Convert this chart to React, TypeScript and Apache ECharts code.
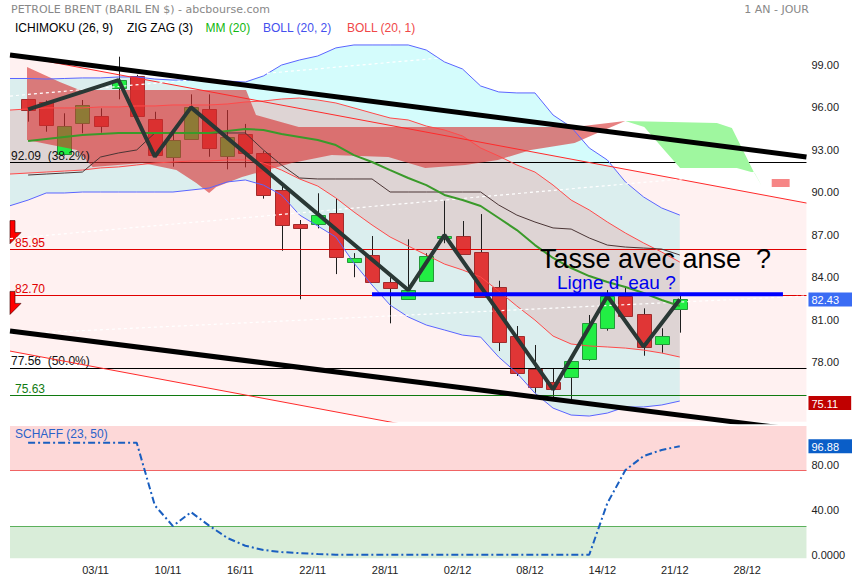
import React, { useEffect, useRef } from 'react';
import * as echarts from 'echarts';

const FONT = '"Liberation Sans", Arial, Helvetica, sans-serif';
const TITLE_FONT = '"DejaVu Sans", Verdana, sans-serif';

// time slots (slot 0 = left edge of the plot, candles in slots 1..37)
const dates = ['27/10','28/10','31/10','01/11','02/11','03/11','04/11','07/11','08/11','10/11','11/11','14/11','15/11','16/11','17/11','18/11','21/11','22/11','23/11','24/11','25/11','28/11','29/11','30/11','01/12','02/12','05/12','06/12','07/12','08/12','09/12','12/12','13/12','14/12','15/12','16/12','19/12','21/12','22/12','23/12','27/12','28/12','29/12','30/12','02/01'];
const labelSlots = [5, 9, 13, 17, 21, 25, 29, 33, 37, 41];

// open, close, low, high
const ohlc: number[][] = [
  [96.57, 95.76, 94.99, 96.6], [96.40, 94.80, 94.28, 96.5], [92.68, 94.66, 92.6, 95.58], [94.85, 96.15, 94.17, 96.52],
  [95.37, 94.66, 94.21, 95.93], [97.32, 97.91, 96.57, 99.58], [98.22, 95.37, 95.3, 98.3], [95.16, 92.61, 92.5, 95.69],
  [92.51, 93.69, 91.81, 94.17], [93.79, 96.03, 93.7, 96.92], [95.86, 93.08, 92.51, 96.92], [92.58, 93.89, 91.62, 95.81],
  [94.12, 92.80, 91.76, 94.83], [92.75, 89.79, 89.55, 92.92], [90.14, 87.67, 85.87, 90.51], [87.76, 87.45, 82.44, 88.04],
  [87.74, 88.39, 87.45, 89.93], [88.51, 85.43, 84.22, 89.57], [85.05, 85.33, 84.0, 85.7], [85.55, 83.64, 83.6, 86.91],
  [83.64, 83.21, 80.74, 84.0], [82.44, 83.09, 82.4, 86.68], [83.75, 85.5, 83.68, 85.69], [86.83, 86.93, 86.4, 89.4],
  [86.91, 85.62, 85.6, 87.97], [85.78, 82.62, 82.6, 88.46], [83.28, 79.40, 78.78, 83.75], [79.84, 77.21, 77.02, 80.55],
  [77.51, 76.22, 75.84, 79.21], [76.61, 76.15, 75.44, 77.51], [76.92, 78.08, 75.11, 78.1], [78.2, 80.74, 78.1, 81.33],
  [80.39, 82.67, 80.22, 83.09], [82.67, 81.26, 81.2, 83.28], [81.38, 79.04, 78.45, 81.8], [79.28, 79.84, 78.66, 80.39],
  [81.73, 82.43, 80.08, 82.67],
];

// BOLL (20,2) and BOLL (20,1), slots 0..37
const boll2Upper = [98.04, 98.04, 98.00, 98.04, 98.08, 98.08, 98.15, 98.15, 98.00, 97.93, 97.93, 97.93, 97.86, 97.79, 98.22, 98.99, 99.35, 99.63, 100.20, 100.41, 100.41, 100.41, 100.41, 100.05, 99.21, 98.71, 97.51, 97.09, 97.02, 97.02, 95.46, 94.61, 93.13, 92.28, 90.73, 89.67, 88.89, 88.39];
const boll2Lower = [89.05, 89.45, 89.95, 89.95, 90.02, 90.02, 90.02, 90.02, 90.02, 90.02, 90.16, 90.30, 90.73, 90.87, 90.51, 89.81, 88.39, 87.62, 86.84, 85.00, 83.45, 82.03, 81.19, 80.62, 80.27, 79.91, 79.77, 78.36, 77.23, 75.81, 74.75, 74.26, 74.19, 74.40, 74.83, 74.83, 74.97, 75.25];
const boll1Upper = [95.81, 95.89, 95.96, 95.96, 95.96, 96.03, 96.03, 96.10, 96.10, 96.17, 96.17, 96.17, 96.24, 96.38, 96.45, 96.59, 96.66, 96.52, 96.31, 95.96, 95.60, 95.25, 95.11, 94.68, 94.40, 93.98, 93.13, 92.56, 91.93, 91.43, 90.51, 89.45, 88.75, 87.90, 87.12, 86.42, 85.78, 85.07];
const boll1Lower = [91.29, 91.36, 91.43, 91.50, 91.57, 91.72, 91.79, 91.93, 92.07, 92.14, 92.21, 92.21, 92.28, 92.28, 92.07, 91.57, 90.94, 90.44, 89.60, 88.61, 87.69, 86.84, 86.20, 85.57, 84.93, 84.51, 84.01, 83.02, 81.96, 80.97, 79.84, 79.28, 79.14, 79.07, 78.99, 78.85, 78.64, 78.36];
// MM (20) and Ichimoku base line, slots 1..37
const mm20 = [93.62, 93.77, 93.91, 94.05, 94.12, 94.19, 94.19, 94.19, 94.19, 94.19, 94.19, 94.33, 94.47, 94.40, 94.12, 93.91, 93.69, 93.34, 92.63, 92.14, 91.57, 91.01, 90.51, 89.81, 89.45, 89.03, 88.18, 87.33, 86.27, 85.36, 84.65, 84.08, 83.66, 83.31, 82.88, 82.39, 81.96];
const kijun = [91.22, 91.29, 91.36, 91.43, 92.49, 92.78, 92.99, 94.19, 94.19, 94.19, 94.19, 94.19, 94.19, 92.99, 91.93, 91.01, 90.94, 90.94, 90.94, 90.94, 90.02, 90.02, 90.02, 90.02, 90.02, 90.02, 89.10, 88.39, 87.90, 87.48, 87.40, 86.77, 86.27, 86.13, 86.06, 85.99, 85.57];

// Ichimoku cloud edges [slot, price]
const cloudRedTop = [[0.94, 98.85], [2.75, 97.79], [3.85, 97.23], [13.04, 97.23], [13.59, 95.46], [15.95, 94.61], [31.19, 94.61], [33.99, 95.04]];
const cloudRedBottom = [[0.94, 93.69], [3.69, 92.99], [4.57, 91.79], [7.32, 92.07], [9.19, 91.57], [10.29, 90.66], [11.0, 89.95], [11.39, 90.37], [12.82, 91.08], [15.57, 92.07], [17.77, 92.63], [20.9, 92.49], [22.94, 91.71], [25.14, 91.93], [26.95, 92.28], [28.77, 92.99], [31.19, 93.48], [32.45, 94.19], [33.99, 95.04]];
const cloudGreenTop = [[33.99, 95.04], [39.05, 94.90], [39.88, 94.54], [40.43, 93.13], [41.09, 91.43], [41.53, 90.44]];
const cloudGreenBottom = [[33.99, 95.04], [35.04, 94.61], [36.14, 92.99], [37.02, 91.71], [40.15, 91.71], [41.14, 91.36], [41.53, 90.44]];
const cloudTailTop = [[42.08, 90.94], [43.07, 90.94]];
const cloudTailBottom = [[42.08, 90.37], [43.07, 90.37]];

// ZIG ZAG (3) pivots [slot, price]
const zigzag = [[1, 95.86], [6, 97.93], [8, 92.52], [10, 96.0], [22, 83.09], [24, 86.98], [30, 76.07], [33, 82.67], [35, 79.09], [37, 82.43]];

// drawn lines [slot, price]
const channelUpper = [[0, 99.74], [44, 89.24]];
const channelLower = [[0, 78.78], [44, 68.28]];
const trendUpper = [[0, 99.70], [44, 92.49]];
const trendLower = [[0, 80.20], [44, 73.13]];
const dashedLines = [
  [[0, 96.80], [44, 101.78]],
  [[0, 86.73], [44, 91.72]],
  [[0, 79.98], [44, 82.67]],
];
const waterLine = [[20, 82.8], [42.7, 82.8]];

const levels = [92.09, 85.95, 82.70, 77.56, 75.63];
const levelNotes = ['(38.2%)', '', '', '(50.0%)', ''];
const arrowLevels = [85.95, 82.70];

const priceTicks = [78, 81, 84, 87, 90, 93, 96, 99];
const lastClose = 82.43;
const periodLow = 75.11;

// SCHAFF (23, 50), slots 1..37
const schaff = [100, 100, 100, 100, 100, 100, 100, 44, 25.6, 38, 26, 15, 8, 4.2, 2.4, 1.4, 0.6, 0, 0, 0, 0, 0, 0, 0, 0, 0, 0, 0, 0, 0, 0, 0, 46, 75.6, 88, 93.5, 96.88];
const schaffTicks = [0, 40, 80];
const schaffZones = [25, 75];
const lastSchaff = 96.88;

const Y_MIN = 73.79, Y_MAX = 100.76;
const S_MIN = -3.2, S_MAX = 114.9;

const bySlot = (arr: number[], start: number) => arr.map((v, k) => [start + k, v]);

const band = (upper: number[][], lower: number[][], fill: string, z: number) => ({
  type: 'custom', xAxisIndex: 0, yAxisIndex: 0, z, silent: true, clip: true,
  data: [[0, 80]], encode: { x: 0, y: 1 },
  renderItem: (_p: any, api: any) => ({
    type: 'polygon',
    shape: { points: [...upper, ...lower.slice().reverse()].map((p) => api.coord(p)) },
    style: { fill },
  }),
});

const line = (data: number[][], color: string, width: number, z: number, type: any = 'solid', extra: any = {}) => ({
  type: 'line', xAxisIndex: 0, yAxisIndex: 0, data, symbol: 'none', silent: true, z,
  lineStyle: { color, width, type }, animation: false, ...extra,
});

const levelColor = (k: number) => (k === 0 || k === 3 ? '#000000' : k === 4 ? '#107a10' : '#e00000');

const option: any = {
  animation: false,
  textStyle: { fontFamily: FONT },
  grid: [
    { left: 10, right: 45, top: 40, height: 381.7 },
    { left: 10, right: 45, top: 426, height: 132.3 },
  ],
  xAxis: [
    { type: 'value', gridIndex: 0, min: 0, max: 44, show: false },
    {
      type: 'value', gridIndex: 1, min: 0, max: 44,
      axisLine: { show: false }, axisTick: { show: false }, splitLine: { show: false },
      axisLabel: {
        customValues: labelSlots, formatter: (v: number) => dates[Math.round(v)],
        color: '#222', fontSize: 11, margin: 6, padding: [0, 10, 0, 0], fontFamily: FONT,
      },
    },
  ],
  yAxis: [
    {
      type: 'value', gridIndex: 0, position: 'right', min: Y_MIN, max: Y_MAX,
      axisLine: { show: false }, axisTick: { show: false }, splitLine: { show: false },
      axisLabel: { customValues: priceTicks, formatter: (v: number) => v.toFixed(2), color: '#222', fontSize: 11, margin: 5, padding: [0, 0, 5, 0], fontFamily: FONT },
    },
    {
      type: 'value', gridIndex: 0, position: 'right', min: Y_MIN, max: Y_MAX,
      axisLine: { show: false }, axisTick: { show: false }, splitLine: { show: false },
      axisLabel: {
        customValues: [lastClose, periodLow], margin: 2, fontFamily: FONT,
        formatter: (v: number) => (v === lastClose ? `{b|${v.toFixed(2)}}` : `{r|${v.toFixed(2)}}`),
        rich: {
          b: { backgroundColor: '#3a6cf4', color: '#fff', fontSize: 11, padding: [2, 13, 1, 3], fontFamily: FONT },
          r: { backgroundColor: '#c00000', color: '#fff', fontSize: 11, padding: [2, 13, 1, 3], fontFamily: FONT },
        },
      },
    },
    {
      type: 'value', gridIndex: 1, position: 'right', min: S_MIN, max: S_MAX,
      axisLine: { show: false }, axisTick: { show: false }, splitLine: { show: false },
      axisLabel: { customValues: schaffTicks, formatter: (v: number) => (v === 0 ? '0.0000' : v.toFixed(2)), color: '#222', fontSize: 11, margin: 5, padding: [0, 0, 5, 0], fontFamily: FONT },
    },
    {
      type: 'value', gridIndex: 1, position: 'right', min: S_MIN, max: S_MAX,
      axisLine: { show: false }, axisTick: { show: false }, splitLine: { show: false },
      axisLabel: {
        customValues: [lastSchaff], margin: 2, formatter: (v: number) => `{b|${v.toFixed(2)}}`,
        rich: { b: { backgroundColor: '#0a5ec8', color: '#fff', fontSize: 11, padding: [2, 13, 1, 3], fontFamily: FONT } },
      },
    },
  ],
  series: [
    band(bySlot(boll2Upper, 0), bySlot(boll2Lower, 0), '#d4fcfc', 1),
    band(bySlot(boll1Upper, 0), bySlot(boll1Lower, 0), 'rgba(225,125,125,0.25)', 2),
    band(channelUpper, channelLower, 'rgba(255,175,175,0.18)', 3),
    {
      type: 'custom', xAxisIndex: 0, yAxisIndex: 0, z: 4, silent: true, clip: true,
      dimensions: ['slot', 'open', 'close', 'low', 'high'],
      encode: { x: 0, y: [1, 2, 3, 4] },
      data: ohlc.map((d, k) => [k + 1, ...d]),
      renderItem: (_p: any, api: any) => {
        const i = api.value(0), o = api.value(1), c = api.value(2), l = api.value(3), h = api.value(4);
        const pO = api.coord([i, o]);
        const yC = api.coord([i, c])[1];
        const yL = api.coord([i, l])[1];
        const yH = api.coord([i, h])[1];
        const w = 14;
        const x = Math.round(pO[0]) + 0.5;
        const up = c >= o;
        const top = Math.round(Math.min(pO[1], yC)) + 0.5;
        const bh = Math.max(Math.round(Math.abs(pO[1] - yC)), 2);
        return {
          type: 'group',
          children: [
            { type: 'line', shape: { x1: x, y1: yH, x2: x, y2: yL }, style: { stroke: '#1e1e1e', lineWidth: 1 } },
            { type: 'rect', shape: { x: x - w / 2, y: top, width: w, height: bh }, style: { fill: up ? '#22ee44' : '#e03636', stroke: up ? '#25973a' : '#a02c2c', lineWidth: 1 } },
          ],
        };
      },
    },
    band(cloudRedTop, cloudRedBottom, 'rgba(215,45,45,0.6)', 5),
    band(cloudGreenTop, cloudGreenBottom, '#9ff79f', 5),
    band(cloudTailTop, cloudTailBottom, 'rgba(240,60,60,0.62)', 5),
    line(bySlot(boll2Upper, 0), '#5a64ff', 1, 6),
    line(bySlot(boll2Lower, 0), '#5a64ff', 1, 6),
    line(bySlot(boll1Upper, 0), '#ff4a4a', 1, 6),
    line(bySlot(boll1Lower, 0), '#ff4a4a', 1, 6),
    line(channelUpper, '#ff2a2a', 1, 6),
    line(channelLower, '#ff2a2a', 1, 6),
    ...dashedLines.map((d) => line(d, '#ffffff', 1.2, 6, [3, 3])),
    line(bySlot(kijun, 1), '#4a3535', 1, 6),
    line(bySlot(mm20, 1), '#3a9a2a', 2, 6),
    line([[0, levels[0]], [44, levels[0]]], 'rgba(0,0,0,0)', 0, 7, 'solid', {
      markLine: {
        silent: true, symbol: 'none', animation: false,
        data: levels.map((v, k) => ({
          yAxis: v,
          lineStyle: { color: levelColor(k), width: 1, type: 'solid' },
          label: {
            show: true, position: 'insideStartTop', distance: [k === 0 || k === 3 ? 1 : 5, 1],
            formatter: `${v.toFixed(2)}${levelNotes[k] ? '  ' + levelNotes[k] : ''}`,
            color: k === 0 || k === 3 ? '#111' : levelColor(k), fontSize: 12, fontFamily: FONT,
          },
        })),
      },
      markPoint: {
        silent: true, animation: false,
        label: { show: false },
        data: arrowLevels.map((v, k) => ({
          coord: [0, v],
          symbol: 'path://M0,0 L5,0 L5,12 L11,12 L0,23 Z',
          symbolSize: [11, 23], symbolKeepAspect: false,
          symbolOffset: [5.5, k === 0 ? -17.5 : 7.3],
          itemStyle: { color: '#ff0000', borderColor: '#400000', borderWidth: 0.6 },
        })),
      },
    }),
    line(zigzag, '#2a3835', 4, 8),
    line(trendUpper, '#000000', 5, 9),
    line(trendLower, '#000000', 5, 9),
    line(waterLine, '#0000ff', 4, 10),
    {
      type: 'line', xAxisIndex: 1, yAxisIndex: 2, data: bySlot(schaff, 1), symbol: 'none', silent: true, z: 5,
      lineStyle: { color: '#1a5fc0', width: 2, type: [7, 3, 2, 3] },
      markArea: {
        silent: true,
        data: [
          [{ yAxis: schaffZones[1], itemStyle: { color: '#fdd8d8' } }, { yAxis: S_MAX }],
          [{ yAxis: S_MIN, itemStyle: { color: '#d9edd9' } }, { yAxis: schaffZones[0] }],
        ],
      },
      markLine: {
        silent: true, symbol: 'none', label: { show: false },
        data: [
          { yAxis: schaffZones[1], lineStyle: { color: '#f06464', width: 1, type: 'solid' } },
          { yAxis: schaffZones[0], lineStyle: { color: '#5cb05c', width: 1, type: 'solid' } },
        ],
      },
    },
  ],
  graphic: [
    { type: 'text', x: 11, y: 9, z: 100, style: { text: 'PETROLE BRENT (BARIL EN $) - abcbourse.com', fill: '#888888', font: `11px ${TITLE_FONT}`, verticalAlign: 'middle' } },
    { type: 'text', x: 809, y: 9, z: 100, style: { text: '1 AN - JOUR', fill: '#888888', font: `11px ${TITLE_FONT}`, align: 'right', verticalAlign: 'middle' } },
    { type: 'text', x: 15, y: 28, z: 100, style: { text: 'ICHIMOKU (26, 9)', fill: '#000', font: `12px ${FONT}`, verticalAlign: 'middle' } },
    { type: 'text', x: 127, y: 28, z: 100, style: { text: 'ZIG ZAG (3)', fill: '#000', font: `12px ${FONT}`, verticalAlign: 'middle' } },
    { type: 'text', x: 205.5, y: 28, z: 100, style: { text: 'MM (20)', fill: '#11b811', font: `12px ${FONT}`, verticalAlign: 'middle' } },
    { type: 'text', x: 263, y: 28, z: 100, style: { text: 'BOLL (20, 2)', fill: '#4450ee', font: `12px ${FONT}`, verticalAlign: 'middle' } },
    { type: 'text', x: 347, y: 28, z: 100, style: { text: 'BOLL (20, 1)', fill: '#f04848', font: `12px ${FONT}`, verticalAlign: 'middle' } },
    { type: 'text', x: 540, y: 259, z: 100, style: { text: 'Tasse avec anse  ?', fill: '#000', font: `27px ${FONT}`, verticalAlign: 'middle' } },
    { type: 'text', x: 557, y: 282.6, z: 100, style: { text: "Ligne d' eau ?", fill: '#0000ee', font: `19px ${FONT}`, verticalAlign: 'middle' } },
    { type: 'text', x: 15, y: 434, z: 100, style: { text: 'SCHAFF (23, 50)', fill: '#2a62c9', font: `12px ${FONT}`, verticalAlign: 'middle' } },
  ],
};

export default function App() {
  const ref = useRef<HTMLDivElement>(null);
  useEffect(() => {
    const chart = echarts.init(ref.current as HTMLDivElement, null, { renderer: 'svg' });
    chart.setOption(option);
    return () => chart.dispose();
  }, []);
  return <div ref={ref} style={{ position: 'absolute', left: 0, top: 0, width: 855, height: 580 }} />;
}
